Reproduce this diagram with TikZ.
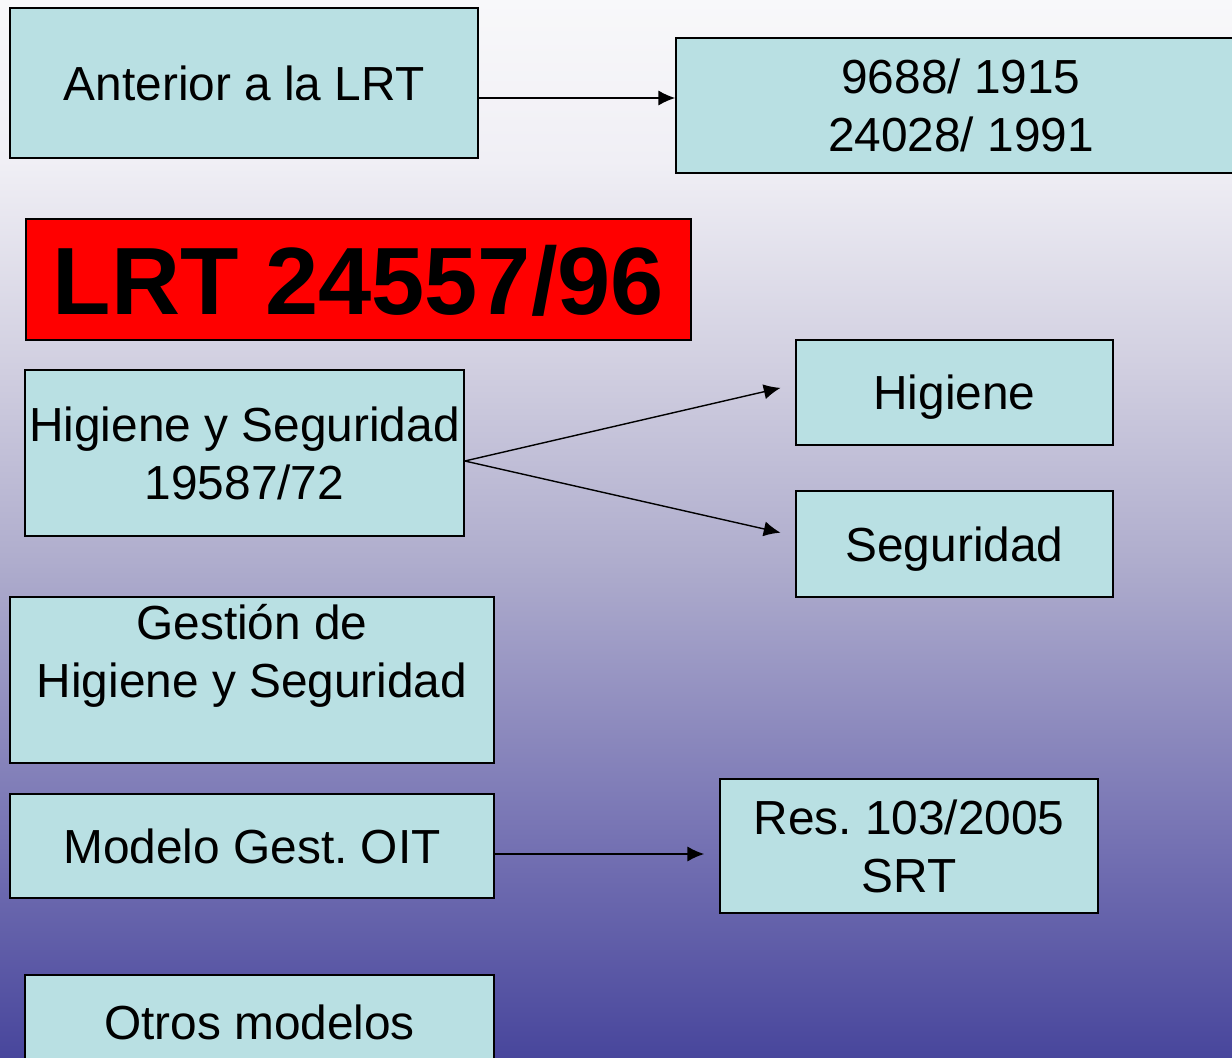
\documentclass[tikz,border=0pt]{standalone}
\usepackage{fontspec}
\setmainfont{Liberation Sans}
\usetikzlibrary{arrows.meta}
\frenchspacing

\definecolor{boxcyan}{RGB}{185,224,227}
\definecolor{lrtred}{RGB}{255,0,0}
\definecolor{bgtop}{RGB}{248,248,250}
\definecolor{bghigh}{RGB}{240,239,245}
\definecolor{bgupper}{RGB}{210,208,225}
\definecolor{bgmid}{RGB}{175,173,205}
\definecolor{bglow}{RGB}{115,112,178}
\definecolor{bgbot}{RGB}{72,70,156}

\pgfdeclareverticalshading{slidebg}{100bp}{color(0bp)=(bgbot); color(25bp)=(bgbot);
  color(34.8bp)=(bglow); color(48.5bp)=(bgmid); color(58bp)=(bgupper);
  color(67.4bp)=(bghigh); color(75bp)=(bgtop); color(100bp)=(bgtop)}

\tikzset{
  box/.style={draw=black, line width=1.1pt, fill=boxcyan, inner sep=0pt,
    align=center, text depth=0pt, font=\fontsize{34}{41}\selectfont},
  arr/.style={-{Latex[length=0.42cm,width=0.38cm]}, line width=1pt}
}

\begin{document}
\begin{tikzpicture}[x=0.025cm, y=-0.025cm]
        \useasboundingbox (0,0) rectangle (1232,1058);
        \clip (0,0) rectangle (1232,1058);
        \shade[shading=slidebg] (0,0) rectangle (1232,1058);

        % before the LRT
        \coordinate (Ant) at (244,83);
        \coordinate (Old) at (961,105.5);

        \node[box, minimum width=11.7cm, minimum height=3.75cm] (ant) at (Ant) {Anterior a la LRT};
        \node[box, minimum width=14.25cm, minimum height=3.375cm] (old) at (Old) {9688/ 1915\\24028/ 1991};
        \draw[arr] ([yshift=-0.375cm]ant.east) -- ([yshift=-0.375cm]ant.east -| old.west);

        % the law
        \coordinate (Lrt) at (358.5,279.5);
        \node[box, fill=lrtred, minimum width=16.625cm, minimum height=3.025cm,
              font=\fontsize{68}{80}\selectfont\bfseries] (lrt) at (Lrt) {LRT 24557/96};

        % hygiene and safety
        \coordinate (Hys) at (244.5,453);
        \coordinate (Hig) at (954.5,392.5);
        \coordinate (Seg) at (954.5,544);

        \node[box, minimum width=10.975cm, minimum height=4.15cm] (hys) at (Hys) {Higiene y Seguridad\\19587/72};
        \node[box, minimum width=7.925cm, minimum height=2.625cm] (hig) at (Hig) {Higiene};
        \node[box, minimum width=7.925cm, minimum height=2.65cm] (seg) at (Seg) {Seguridad};
        \coordinate (hysout) at ([yshift=-0.2cm]hys.east);
        \draw[arr, shorten >=0.375cm] (hysout) -- ([yshift=0.2cm]hig.west);
        \draw[arr, shorten >=0.375cm] (hysout) -- ([yshift=0.2cm]seg.west);

        % management
        \coordinate (Ges) at (252,680);
        \coordinate (Mod) at (252,846);
        \coordinate (Res) at (909,846);
        \coordinate (Otr) at (259.5,1022.5);

        \node[box, minimum width=12.1cm, minimum height=4.15cm] (ges) at (Ges) {Gestión de\\Higiene y Seguridad\\~};
        \node[box, minimum width=12.1cm, minimum height=2.6cm] (mod) at (Mod) {Modelo Gest. OIT};
        \node[box, minimum width=9.45cm, minimum height=3.35cm] (res) at (Res) {Res. 103/2005\\SRT};
        \draw[arr, shorten >=0.375cm] ([yshift=-0.2cm]mod.east) -- ([yshift=-0.2cm]mod.east -| res.west);

        \node[box, minimum width=11.725cm, minimum height=2.375cm] (otr) at (Otr) {Otros modelos};

    \end{tikzpicture}
\end{document}
